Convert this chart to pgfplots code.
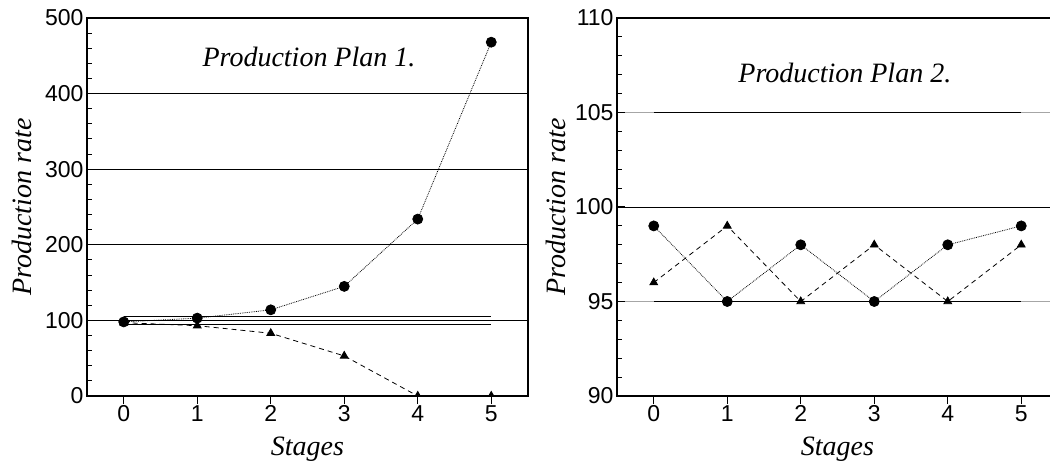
\documentclass[border=0pt]{standalone}
\usepackage{pgfplots}
\pgfplotsset{compat=1.18}
\usepackage{fontspec}
\setmainfont{Liberation Sans}
\newfontfamily\serifit{Liberation Serif}
\begin{document}
\begin{tikzpicture}
\useasboundingbox (0,0) rectangle (1050bp,461bp);
\pgfplotsset{
  every axis/.append style={
    scale only axis, width=441bp, height=378bp,
    xmin=-0.5, xmax=5.5,
    xtick={0,1,2,3,4,5},
    axis line style={line width=1.5bp},
    tick style={black, line width=1bp},
    major tick length=8bp, minor tick length=5bp,
    tick align=inside,
    x tick style={yshift=-8bp},
    xtick pos=bottom, ytick pos=left,
    ymajorgrids, major grid style={black, line width=0.8bp},
    /pgf/number format/assume math mode=true,
    tick label style={font=\fontsize{23bp}{27bp}\selectfont},
    x tick label style={yshift=-6bp},
    label style={font=\fontsize{28bp}{32bp}\selectfont\serifit\itshape},
    xlabel={Stages}, ylabel={Production rate},
    xlabel style={at={(axis description cs:0.5,-0.14)}, anchor=center},
    clip marker paths=true,
  }
}
% ---------- Plot 1
\begin{axis}[at={(87bp,65bp)}, anchor=south west,
  ymin=0, ymax=500, ytick={0,100,200,300,400,500}, minor y tick num=4,
  ylabel style={at={(axis description cs:-0.147,0.5)}, anchor=center},
]
\addplot[black, line width=0.8bp] coordinates {(0,105) (5,105)};
\addplot[black, line width=0.8bp] coordinates {(0,95) (5,95)};
\addplot[black, densely dotted, line width=0.8bp, mark=*, mark size=5bp, mark options={solid}]
  coordinates {(0,98) (1,103) (2,114) (3,145) (4,234) (5,468)};
\addplot[black, dash pattern=on 5bp off 4bp, line width=0.8bp, mark=triangle*, mark size=4.5bp, mark options={solid}]
  coordinates {(0,97) (1,93) (2,83) (3,53) (4,0) (5,0)};
\node[font=\fontsize{28bp}{32bp}\selectfont\serifit\itshape] at (axis cs:2.52,448) {Production Plan 1.};
\end{axis}
% ---------- Plot 2
\begin{axis}[at={(617bp,65bp)}, anchor=south west,
  ymin=90, ymax=110, ytick={90,95,100,105,110}, minor y tick num=4,
  ylabel style={at={(axis description cs:-0.138,0.5)}, anchor=center},
  major grid style={gray!70, line width=0.8bp},
]
\addplot[black, line width=1.6bp] coordinates {(0,105) (5,105)};
\addplot[black, line width=1.6bp] coordinates {(0,95) (5,95)};
\addplot[black, line width=0.8bp] coordinates {(-0.5,100) (5.5,100)};
\addplot[black, densely dotted, line width=0.8bp, mark=*, mark size=5bp, mark options={solid}]
  coordinates {(0,99) (1,95) (2,98) (3,95) (4,98) (5,99)};
\addplot[black, dash pattern=on 5bp off 4bp, line width=0.8bp, mark=triangle*, mark size=4.5bp, mark options={solid}]
  coordinates {(0,96) (1,99) (2,95) (3,98) (4,95) (5,98)};
\node[font=\fontsize{28bp}{32bp}\selectfont\serifit\itshape] at (axis cs:2.6,107.1) {Production Plan 2.};
\end{axis}
\end{tikzpicture}
\end{document}
